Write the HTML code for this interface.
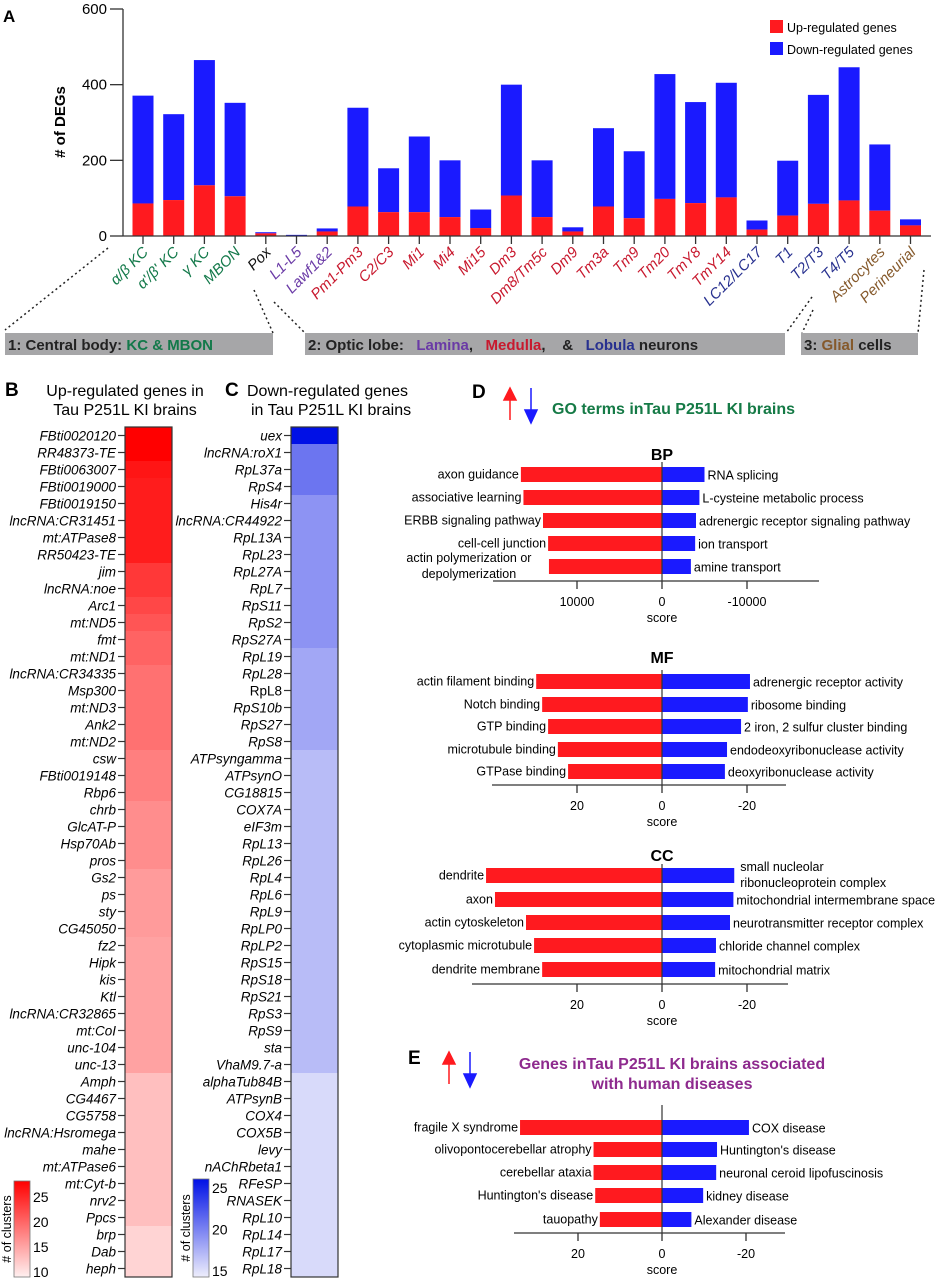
<!DOCTYPE html>
<html><head><meta charset="utf-8">
<style>
html,body{margin:0;padding:0;background:#fff;}
svg{display:block;font-family:"Liberation Sans",Arial,sans-serif;}
</style></head>
<body>
<svg id="fig" width="943" height="1280" viewBox="0 0 943 1280" xmlns="http://www.w3.org/2000/svg">
<g id="gA"></g>
<g id="gB"></g>
<g id="gC"></g>
<g id="gD"></g>
<g id="gE"></g>
</svg>
<script>
// ===== Panel A data =====
const aCategories = ["α/β KC","α'/β' KC","γ KC","MBON","Pox","L1-L5","Lawf1&2","Pm1-Pm3","C2/C3","Mi1","Mi4","Mi15","Dm3","Dm8/Tm5c","Dm9","Tm3a","Tm9","Tm20","TmY8","TmY14","LC12/LC17","T1","T2/T3","T4/T5","Astrocytes","Perineurial"];
const aGroups = ["kc","kc","kc","kc","pox","lam","lam","med","med","med","med","med","med","med","med","med","med","med","med","med","lob","lob","lob","lob","glia","glia"];
const aUp = [86,95,134,105,7,1,12,78,63,63,50,21,107,50,12,78,47,98,87,102,17,54,85,94,67,28];
const aTotal = [371,322,465,352,10,3,20,339,179,263,200,70,400,200,23,285,224,428,354,405,41,199,373,446,242,44];
const aTicks = [0,200,400,600];
// ===== Panel B data =====
const bGenes = ["FBti0020120","RR48373-TE","FBti0063007","FBti0019000","FBti0019150","lncRNA:CR31451","mt:ATPase8","RR50423-TE","jim","lncRNA:noe","Arc1","mt:ND5","fmt","mt:ND1","lncRNA:CR34335","Msp300","mt:ND3","Ank2","mt:ND2","csw","FBti0019148","Rbp6","chrb","GlcAT-P","Hsp70Ab","pros","Gs2","ps","sty","CG45050","fz2","Hipk","kis","Ktl","lncRNA:CR32865","mt:CoI","unc-104","unc-13","Amph","CG4467","CG5758","lncRNA:Hsromega","mahe","mt:ATPase6","mt:Cyt-b","nrv2","Ppcs","brp","Dab","heph"];
const bValues = [27,27,25.5,25,25,25,25,25,23,23,22,21,20,20,19,19,19,19,19,18,18,18,17,17,17,17,16,16,16,16,15.5,15.5,15.5,15.5,15.5,15.5,15.5,15.5,13.5,13.5,13.5,13.5,13.5,13.5,13.5,13.5,13.5,12,12,12];
const bBarTicks = [25,20,15,10];
// ===== Panel C data =====
const cGenes = ["uex","lncRNA:roX1","RpL37a","RpS4","His4r","lncRNA:CR44922","RpL13A","RpL23","RpL27A","RpL7","RpS11","RpS2","RpS27A","RpL19","RpL28","RpL8","RpS10b","RpS27","RpS8","ATPsyngamma","ATPsynO","CG18815","COX7A","eIF3m","RpL13","RpL26","RpL4","RpL6","RpL9","RpLP0","RpLP2","RpS15","RpS18","RpS21","RpS3","RpS9","sta","VhaM9.7-a","alphaTub84B","ATPsynB","COX4","COX5B","levy","nAChRbeta1","RFeSP","RNASEK","RpL10","RpL14","RpL17","RpL18"];
const cValues = [26,21,21,21,19.5,19.5,19.5,19.5,19.5,19.5,19.5,19.5,19.5,18.5,18.5,18.5,18.5,18.5,18.5,17.5,17.5,17.5,17.5,17.5,17.5,17.5,17.5,17.5,17.5,17.5,17.5,17.5,17.5,17.5,17.5,17.5,17.5,17.5,16,16,16,16,16,16,16,16,16,16,16,16];
const cBarTicks = [25,20,15];
// ===== Panel D data =====
const bpUpTerms = ["axon guidance","associative learning","ERBB signaling pathway","cell-cell junction","actin polymerization or|depolymerization"];
const bpUpScores = [16600,16300,14000,13400,13300];
const bpDownTerms = ["RNA splicing","L-cysteine metabolic process","adrenergic receptor signaling pathway","ion transport","amine transport"];
const bpDownScores = [-5000,-4400,-4000,-3900,-3400];
const bpTicks = [10000,0,-10000];
const mfUpTerms = ["actin filament binding","Notch binding","GTP binding","microtubule binding","GTPase binding"];
const mfUpScores = [29.6,28.2,26.8,24.5,22.1];
const mfDownTerms = ["adrenergic receptor activity","ribosome binding","2 iron, 2 sulfur cluster binding","endodeoxyribonuclease activity","deoxyribonuclease activity"];
const mfDownScores = [-20.7,-20.2,-18.6,-15.3,-14.8];
const ccUpTerms = ["dendrite","axon","actin cytoskeleton","cytoplasmic microtubule","dendrite membrane"];
const ccUpScores = [41.4,39.3,32,30.1,28.2];
const ccDownTerms = ["small nucleolar|ribonucleoprotein complex","mitochondrial intermembrane space","neurotransmitter receptor complex","chloride channel complex","mitochondrial matrix"];
const ccDownScores = [-17,-16.8,-16,-12.7,-12.5];
const smallTicks = [20,0,-20];
// ===== Panel E data =====
const eUpTerms = ["fragile X syndrome","olivopontocerebellar atrophy","cerebellar ataxia","Huntington's disease","tauopathy"];
const eUpScores = [33.8,16.3,16.3,15.9,14.8];
const eDownTerms = ["COX disease","Huntington's disease","neuronal ceroid lipofuscinosis","kidney disease","Alexander disease"];
const eDownScores = [-20.7,-13.1,-12.9,-9.8,-7];

const NS="http://www.w3.org/2000/svg";
function mk(parent,tag,attrs,text){
  const e=document.createElementNS(NS,tag);
  for(const k in attrs) e.setAttribute(k,attrs[k]);
  if(text!==undefined) e.textContent=text;
  parent.appendChild(e); return e;
}
const RED="#ff1a1f", BLUE="#1a1aff";

// ===== Panel A =====
(function(){
  const g=document.getElementById('gA');
  const x0=123,x1=931,yBase=236,yTop=9,vmax=600;
  const band=30.7, first=143, bw=21;
  const yS=v=>yBase-(v/vmax)*(yBase-yTop);
  const xS=i=>first+i*band;
  let t=mk(g,'text',{x:3,y:22,'font-size':17,'font-weight':'bold'},'A');
   
  const yt=mk(g,'text',{x:0,y:0,'font-size':15,'font-weight':'bold',transform:'translate(65,122) rotate(-90)','text-anchor':'middle'},'# of DEGs');
   
  aTicks.forEach(v=>{
    const y=yS(v);
    const l=mk(g,'line',{x1:110,x2:x0,y1:y,y2:y,stroke:'#333','stroke-width':1.3});
     
    const tl=mk(g,'text',{x:107,y:y+5,'font-size':15,'text-anchor':'end'},String(v));
     
  });
  const ax=mk(g,'line',{x1:x0,x2:x0,y1:yTop,y2:yBase,stroke:'#333','stroke-width':1.3});
   
  const colors={kc:'#13794a',pox:'#111',lam:'#6a3aa6',med:'#c8192e',lob:'#27308f',glia:'#85592b'};
  aCategories.forEach((c,i)=>{
    const cx=xS(i);
    const up=aUp[i], tot=aTotal[i];
    const rb=mk(g,'rect',{x:cx-bw/2,y:yS(tot),width:bw,height:yS(up)-yS(tot),fill:BLUE});
     
    const rr=mk(g,'rect',{x:cx-bw/2,y:yS(up),width:bw,height:yBase-yS(up),fill:RED});
     
    const tk=mk(g,'line',{x1:cx,x2:cx,y1:yBase,y2:yBase+8,stroke:'#333','stroke-width':1.3});
     
    const lb=mk(g,'text',{x:0,y:0,'font-size':15,'font-style':'italic','text-anchor':'end',fill:colors[aGroups[i]],transform:`translate(${cx+6},${yBase+17}) rotate(-45)`},c);
     
  });
  const bl=mk(g,'line',{x1:x0,x2:x1,y1:yBase,y2:yBase,stroke:'#333','stroke-width':1.3});
   
  const lg=mk(g,'g',{});  
  let e1=mk(lg,'rect',{x:770,y:20,width:13,height:13,fill:RED});  
  let e2=mk(lg,'text',{x:787,y:32,'font-size':12.5},'Up-regulated genes');  
  let e3=mk(lg,'rect',{x:770,y:42,width:13,height:13,fill:BLUE});  
  let e4=mk(lg,'text',{x:787,y:54,'font-size':12.5},'Down-regulated genes');  
  [[108,248,5,330],[254,290,273,333],[274,302,305,333],[812,297,786,333],[813,310,802,333],[924,270,918,333]].forEach(d=>{
    const l=mk(g,'line',{x1:d[0],y1:d[1],x2:d[2],y2:d[3],stroke:'#222','stroke-width':1.5,'stroke-dasharray':'2,3'});
     
  });
  const boxes=[[5,273,'1: Central body: ','<tspan fill="#13794a">KC &amp; MBON</tspan>','group-box-central-body'],
    [305,785,'2: Optic lobe:   ','<tspan fill="#6a3aa6">Lamina</tspan>,   <tspan fill="#c8192e">Medulla</tspan>,    &amp;   <tspan fill="#27308f">Lobula</tspan> neurons','group-box-optic-lobe'],
    [801,918,'3: ','<tspan fill="#85592b">Glial</tspan> cells','group-box-glial']];
  boxes.forEach(b=>{
    const r=mk(g,'rect',{x:b[0],y:333,width:b[1]-b[0],height:22,fill:'#a6a6a8'});
     
    const t=mk(g,'text',{x:b[0]+3,y:350,'font-size':15,'font-weight':'bold',fill:'#222'});
     
    t.style.whiteSpace='pre';
    t.innerHTML=b[2].replace(/ /g,'\u00a0')+b[3];
  });
})();

// ===== Heatmaps =====
function heat(gid,letter,lx,title1,t1x,title2,t2x,anchor,genes,vals,hx,color,cb){
  const g=document.getElementById(gid);
  let t=mk(g,'text',{x:lx,y:396,'font-size':19,'font-weight':'bold'},letter);
   
  let a=mk(g,'text',{x:t1x,y:396,'font-size':16,'text-anchor':anchor},title1);
   
  let b=mk(g,'text',{x:t2x,y:415,'font-size':16,'text-anchor':anchor},title2);
   
  const top=427,rh=17,w=47;
  genes.forEach((gn,i)=>{
    const y=top+i*rh;
    const r=mk(g,'rect',{x:hx,y:y,width:w,height:rh+0.5,fill:color(vals[i])});
     
    const tk=mk(g,'line',{x1:hx-7,x2:hx,y1:y+rh/2,y2:y+rh/2,stroke:'#333','stroke-width':1.2});
     
    const l=mk(g,'text',{x:hx-9,y:y+rh/2+5,'font-size':13.5,'font-style':gn==='RpL8'?'normal':'italic','text-anchor':'end'},gn);
     
  });
  const o=mk(g,'rect',{x:hx,y:top,width:w,height:genes.length*rh,fill:'none',stroke:'#333','stroke-width':1.2});
   
  const id='grad'+letter;
  const defs=mk(g,'defs',{});
  const lgd=mk(defs,'linearGradient',{id:id,x1:0,y1:1,x2:0,y2:0});
  mk(lgd,'stop',{offset:0,'stop-color':color(cb.min)});
  mk(lgd,'stop',{offset:1,'stop-color':color(cb.max)});
  const cr=mk(g,'rect',{x:cb.x,y:cb.y0,width:16,height:cb.y1-cb.y0,fill:`url(#${id})`,stroke:'#777','stroke-width':0.8});
   
  cb.ticks.forEach(v=>{
    const y=cb.ya-(v-cb.va)/(cb.vb-cb.va)*(cb.ya-cb.yb);
    const tl=mk(g,'text',{x:cb.x+19,y:y+5,'font-size':14},String(v));
     
  });
  const ct=mk(g,'text',{x:0,y:0,'font-size':12.5,'text-anchor':'middle',transform:`translate(${cb.x-3},${(cb.y0+cb.y1)/2}) rotate(-90)`},'# of clusters');
   
}
function redC(v){const t=Math.max(0,Math.min(1,(v-10)/17));const c=Math.round(240*(1-t));return `rgb(255,${c},${c})`;}
function blueC(v){const t=Math.max(0,Math.min(1,(v-15)/11));return `rgb(${Math.round(238-238*t)},${Math.round(238-222*t)},${Math.round(252-22*t)})`;}
heat('gB','B',5,'Up-regulated genes in',125,'Tau P251L KI brains',125,'middle',bGenes,bValues,125,redC,{x:14,y0:1181,y1:1277,min:10,max:27,va:10,ya:1272,vb:25,yb:1197,ticks:bBarTicks});
heat('gC','C',225,'Down-regulated genes',247,'in Tau P251L KI brains',251,'start',cGenes,cValues,291,blueC,{x:193,y0:1179,y1:1277,min:15,max:26,va:15,ya:1271,vb:25,yb:1188,ticks:cBarTicks});

// ===== Diverging bar charts =====
function div(gid,name,cfg){
  const g=document.getElementById(gid);
  const cx=662, px=cfg.px;
  const xs=v=>cx-v*px;
  if(cfg.title){const t=mk(g,'text',{x:cx,y:cfg.titleY,'font-size':16,'font-weight':'bold','text-anchor':'middle'},cfg.title);
     }
  const bh=15;
  cfg.up.forEach((s,i)=>{
    const y=cfg.rows[i];
    const r=mk(g,'rect',{x:xs(s),y:y,width:cx-xs(s),height:bh,fill:RED});
     
    const lines=cfg.upT[i].split('|');
    lines.forEach((ln,k)=>{
      const yy = lines.length>1 ? y+3+k*16 : y+bh/2+4;
      const xx = lines.length>1 ? xs(s)-12-(k?40:0)+ (k?0:0) : xs(s)-2;
      const l=mk(g,'text',{x:lines.length>1?(k?xs(s)-48:xs(s)-12):xs(s)-2,y:yy,'font-size':12.5,'text-anchor':lines.length>1?'middle':'end'},ln);
      if(lines.length>1){l.setAttribute('x',xs(s)-80);}
       
    });
  });
  cfg.down.forEach((s,i)=>{
    const y=cfg.rows[i];
    const r=mk(g,'rect',{x:cx,y:y,width:xs(s)-cx,height:bh,fill:BLUE});
     
    const lines=cfg.downT[i].split('|');
    lines.forEach((ln,k)=>{
      const l=mk(g,'text',{x:xs(s)+(lines.length>1?6:3),y:lines.length>1? y+3+k*16 : y+bh/2+5,'font-size':12.5},ln);
       
    });
  });
  const vl=mk(g,'line',{x1:cx,x2:cx,y1:cfg.vTop,y2:cfg.axisY,stroke:'#333','stroke-width':1.2});
   
  const al=mk(g,'line',{x1:cfg.ax0,x2:cfg.ax1,y1:cfg.axisY,y2:cfg.axisY,stroke:'#333','stroke-width':1.3});
   
  cfg.ticks.forEach(v=>{
    const x=xs(v);
    const tk=mk(g,'line',{x1:x,x2:x,y1:cfg.axisY,y2:cfg.axisY+8,stroke:'#333','stroke-width':1.3});
     
    const tl=mk(g,'text',{x:x,y:cfg.axisY+25,'font-size':12.5,'text-anchor':'middle'},String(v));
     
  });
  const sc=mk(g,'text',{x:cx,y:cfg.axisY+41,'font-size':12.5,'text-anchor':'middle'},'score');
   
}
function arrows(g,x,y){
  const a=mk(g,'path',{d:`M${x} ${y+32} V${y+10} M${x-6} ${y+12} L${x} ${y} L${x+6} ${y+12} Z`,stroke:RED,fill:RED,'stroke-width':1.5});
   
  const b=mk(g,'path',{d:`M${x+21} ${y} V${y+24} M${x+15} ${y+22} L${x+21} ${y+35} L${x+27} ${y+22} Z`,stroke:BLUE,fill:BLUE,'stroke-width':1.5});
   
}
(function(){
  const g=document.getElementById('gD');
  let t=mk(g,'text',{x:472,y:398,'font-size':19,'font-weight':'bold'},'D');
   
  arrows(g,510,388);
  let h=mk(g,'text',{x:552,y:414,'font-size':16,'font-weight':'bold',fill:'#157a46'},'GO terms inTau P251L KI brains');
   
  div('gD','bp',{title:'BP',titleY:460,px:85/10000,up:bpUpScores,upT:bpUpTerms,down:bpDownScores,downT:bpDownTerms,rows:[467,490,513,536,559],vTop:462,axisY:581,ax0:493,ax1:819,ticks:bpTicks});
  div('gD','mf',{title:'MF',titleY:663,px:85/20,up:mfUpScores,upT:mfUpTerms,down:mfDownScores,downT:mfDownTerms,rows:[674,697,719,742,764],vTop:670,axisY:785,ax0:492,ax1:786,ticks:smallTicks});
  div('gD','cc',{title:'CC',titleY:861,px:85/20,up:ccUpScores,upT:ccUpTerms,down:ccDownScores,downT:ccDownTerms,rows:[868,892,915,938,962],vTop:864,axisY:984,ax0:472,ax1:788,ticks:smallTicks});
})();
(function(){
  const g=document.getElementById('gE');
  let t=mk(g,'text',{x:408,y:1064,'font-size':19,'font-weight':'bold'},'E');
   
  arrows(g,449,1052);
  let h1=mk(g,'text',{x:672,y:1069,'font-size':16,'font-weight':'bold',fill:'#8e2a8e','text-anchor':'middle'},'Genes inTau P251L KI brains associated');
   
  let h2=mk(g,'text',{x:672,y:1089,'font-size':16,'font-weight':'bold',fill:'#8e2a8e','text-anchor':'middle'},'with human diseases');
   
  div('gE','disease',{px:84/20,up:eUpScores,upT:eUpTerms,down:eDownScores,downT:eDownTerms,rows:[1120,1142,1165,1188,1212],vTop:1105,axisY:1233,ax0:514,ax1:785,ticks:smallTicks});
})();
</script>
</body></html>
